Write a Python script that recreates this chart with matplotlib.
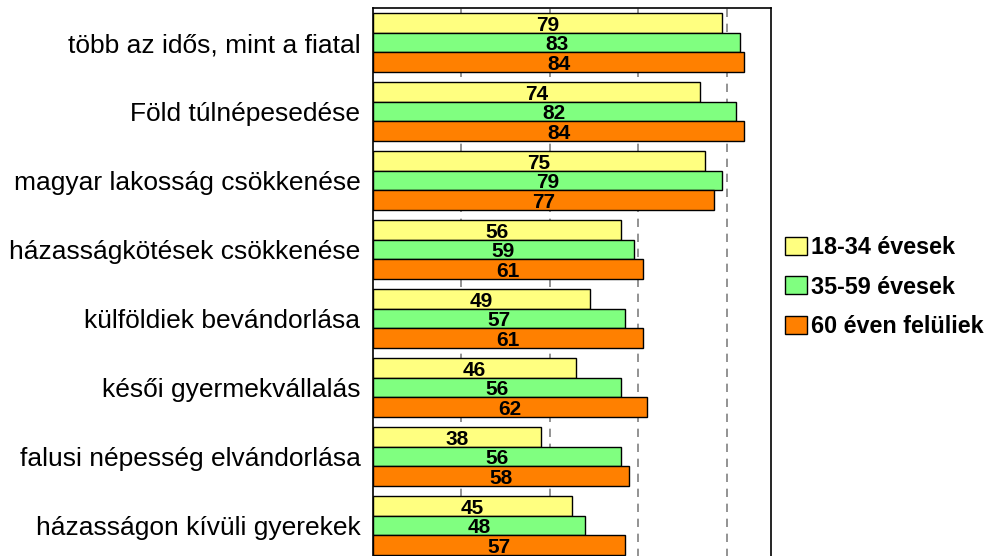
import numpy as np
import matplotlib.pyplot as plt
from matplotlib.patches import Patch

plt.rcParams['font.family'] = ['Liberation Sans', 'DejaVu Sans']

categories = ['több az idős, mint a fiatal', 'Föld túlnépesedése',
              'magyar lakosság csökkenése', 'házasságkötések csökkenése',
              'külföldiek bevándorlása', 'késői gyermekvállalás',
              'falusi népesség elvándorlása', 'házasságon kívüli gyerekek']
young = [79, 74, 75, 56, 49, 46, 38, 45]
middle = [83, 82, 79, 59, 57, 56, 56, 48]
old = [84, 84, 77, 61, 61, 62, 58, 57]
series_names = ['18-34 évesek', '35-59 évesek', '60 éven felüliek']
colors = ['#FFFF80', '#80FF80', '#FF8000']

fig = plt.figure(figsize=(9.89, 5.56), dpi=100)
ax = fig.add_axes([373/989, -4/556, (771-373)/989, 552/556])

y = np.arange(len(categories))
h = 0.283
for k, vals in enumerate([young, middle, old]):
    pos = y + (k - 1) * h
    ax.barh(pos, vals, height=h, color=colors[k], edgecolor='black',
            linewidth=1.0, zorder=3)
    for p, v in zip(pos, vals):
        ax.text(v / 2, p + 0.03, str(v), ha='center', va='center',
                fontsize=15, fontweight='bold', zorder=4)

ax.set_xlim(0, 90)
ax.set_ylim(len(categories) - 0.5, -0.5)
ax.set_yticks(y)
ax.set_yticklabels(categories, fontsize=19)
ax.tick_params(axis='y', length=0, pad=9)
ax.set_xticks([20, 40, 60, 80])
ax.tick_params(axis='x', length=0, labelbottom=False)
ax.grid(axis='x', color='#808080', linestyle=(0, (5, 4)), linewidth=1.2, zorder=1)
for s in ax.spines.values():
    s.set_linewidth(1.2)

handles = [Patch(facecolor=c, edgecolor='black', linewidth=1.0) for c in colors]
fig.legend(handles, series_names, loc='center left',
           bbox_to_anchor=(785/989, 1 - 287/556), frameon=False,
           prop={'size': 16.8, 'weight': 'bold'}, handlelength=0.95,
           handleheight=0.8, handletextpad=0.15, labelspacing=0.72,
           borderaxespad=0, borderpad=0)

fig.savefig('out.png', dpi=100)
